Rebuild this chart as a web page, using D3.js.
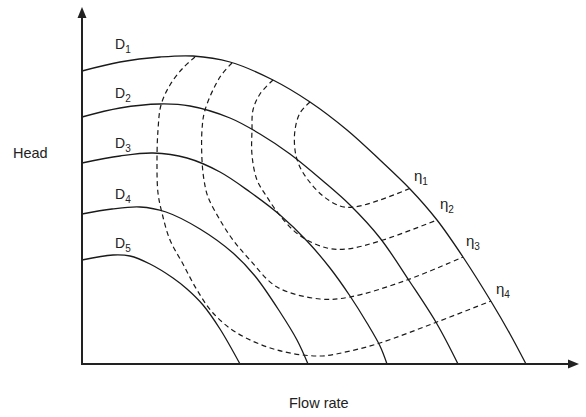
<!DOCTYPE html>
<html>
<head>
<meta charset="utf-8">
<script src="https://cdn.jsdelivr.net/npm/d3@7/dist/d3.min.js"></script>
<style>
  html, body { margin: 0; padding: 0; background: #fff; }
  svg { display: block; font-family: "Liberation Sans", Arial, sans-serif; }
</style>
</head>
<body>
<script>
// Pump performance map: head vs flow rate for five impeller diameters (D1..D5)
// with iso-efficiency contours (η1..η4). Units are relative.

// Impeller diameter characteristics, [flow, head]
const curveD1 = [[0,293],[38,302],[78,307],[111,308],[148,302],[191,284],[228,262],[265,234],[298,204],[328,175],[355,144],[381,107],[410,61],[428,30],[444,0]];
const curveD2 = [[0,247],[38,256],[78,260],[108,258],[148,246],[178,230],[208,210],[241,183],[268,159],[298,126],[328,82],[355,40],[376,0]];
const curveD3 = [[0,201],[38,208],[71,211],[105,206],[138,192],[168,172],[198,149],[225,123],[248,96],[268,68],[285,41],[298,18],[305,0]];
const curveD4 = [[0,150],[30,155],[58,157],[84,152],[118,135],[151,111],[173,88],[198,52],[215,24],[226,0]];
const curveD5 = [[0,104],[31,109],[48,108],[68,100],[91,86],[105,75],[121,59],[138,35],[158,0]];

// Iso-efficiency contours, [flow, head]
const etaC1 = [[228,262],[218,251],[213,234],[213,214],[217,199],[226,184],[241,168],[258,158],[272,157],[298,164],[329,176]];
const etaC2 = [[191,284],[178,270],[171,254],[170,234],[170,209],[175,184],[185,167],[196,151],[211,134],[225,124],[245,116],[265,115],[301,124],[355,144]];
const etaC3 = [[150,301],[138,287],[123,254],[120,234],[120,204],[122,184],[126,167],[138,144],[151,124],[168,104],[195,77],[238,65],[268,67],[325,84],[381,107]];
const etaC4 = [[113,307],[101,296],[88,279],[79,259],[76,234],[75,204],[76,171],[80,151],[88,124],[101,100],[115,74],[131,51],[155,31],[195,14],[238,8],[268,13],[298,21],[355,42],[409,63]];

const diameterCurves = [curveD1, curveD2, curveD3, curveD4, curveD5];
const etaCurves = [etaC1, etaC2, etaC3, etaC4];
const diameterLabels = ["1", "2", "3", "4", "5"];
const etaLabels = ["1", "2", "3", "4"];

const W = 586, H = 417;
const x = d3.scaleLinear().domain([0, 497]).range([82, 579]);
const y = d3.scaleLinear().domain([0, 357]).range([364, 7]);

const svg = d3.select("body").append("svg")
  .attr("width", W).attr("height", H);

const line = d3.line()
  .x(d => x(d[0])).y(d => y(d[1]))
  .curve(d3.curveCatmullRom.alpha(0.5));

// Efficiency contours (dashed)
svg.append("g").selectAll("path").data(etaCurves).join("path")
  .attr("d", line)
  .attr("fill", "none")
  .attr("stroke", "#1a1a1a")
  .attr("stroke-width", 1.2)
  .attr("stroke-dasharray", "5,3.5");

// Diameter curves (solid)
svg.append("g").selectAll("path").data(diameterCurves).join("path")
  .attr("d", line)
  .attr("fill", "none")
  .attr("stroke", "#1a1a1a")
  .attr("stroke-width", 1.3);

// Axes with arrowheads
const axisG = svg.append("g").attr("stroke", "#222").attr("fill", "#222");
axisG.append("line")
  .attr("x1", x(0)).attr("y1", y(0)).attr("x2", x(0)).attr("y2", y(357) + 9)
  .attr("stroke-width", 2);
axisG.append("line")
  .attr("x1", x(0) - 1).attr("y1", y(0)).attr("x2", x(497) - 9).attr("y2", y(0))
  .attr("stroke-width", 2);
axisG.append("path")
  .attr("stroke", "none")
  .attr("d", `M${x(0)},${y(357)} L${x(0) - 4.5},${y(357) + 11} L${x(0) + 4.5},${y(357) + 11} Z`);
axisG.append("path")
  .attr("stroke", "none")
  .attr("d", `M${x(497)},${y(0)} L${x(497) - 11},${y(0) - 4.5} L${x(497) - 11},${y(0) + 4.5} Z`);

// Axis titles
svg.append("text").attr("x", 13).attr("y", 158)
  .attr("font-size", 14.5).attr("fill", "#222").text("Head");
svg.append("text").attr("x", 289).attr("y", 408)
  .attr("font-size", 14.5).attr("fill", "#222").text("Flow rate");

// Diameter labels: D with subscript index
const dLabelPos = [[33, 315], [33, 266], [33, 216], [33, 165], [33, 116]];
diameterLabels.forEach((s, i) => {
  const t = svg.append("text")
    .attr("x", x(dLabelPos[i][0])).attr("y", y(dLabelPos[i][1]))
    .attr("font-size", 14).attr("fill", "#222");
  t.append("tspan").text("D");
  t.append("tspan").attr("font-size", 10).attr("dy", 3.5).text(s);
});

// Efficiency labels: η with subscript index
const etaLabelPos = [[332, 183], [358, 155], [384, 118], [414, 70]];
etaLabels.forEach((s, i) => {
  const t = svg.append("text")
    .attr("x", x(etaLabelPos[i][0])).attr("y", y(etaLabelPos[i][1]))
    .attr("font-size", 15).attr("fill", "#222");
  t.append("tspan").text("η");
  t.append("tspan").attr("font-size", 10).attr("dy", 3.5).text(s);
});
</script>
</body>
</html>
